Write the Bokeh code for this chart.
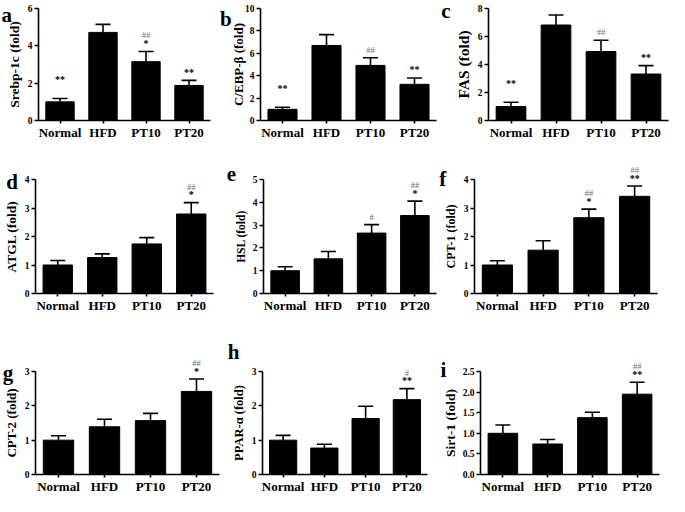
from bokeh.plotting import figure
from bokeh.layouts import column, row
from bokeh.models import (Range1d, FixedTicker, Whisker, TeeHead,
                          ColumnDataSource, FactorRange, PrintfTickFormatter)
from bokeh.core.properties import value
from bokeh.embed import file_html
from bokeh.resources import INLINE

# ---------------- data ----------------
groups = ["Normal", "HFD", "PT10", "PT20"]

srebp_mean = [1.0, 4.72, 3.15, 1.88]
srebp_err = [0.18, 0.43, 0.55, 0.27]
cebp_mean = [1.0, 6.70, 4.92, 3.23]
cebp_err = [0.18, 0.97, 0.68, 0.57]
fas_mean = [1.0, 6.82, 4.93, 3.32]
fas_err = [0.30, 0.72, 0.80, 0.60]
atgl_mean = [1.0, 1.26, 1.74, 2.79]
atgl_err = [0.16, 0.13, 0.22, 0.40]
hsl_mean = [1.0, 1.52, 2.65, 3.42]
hsl_err = [0.17, 0.32, 0.37, 0.63]
cpt1_mean = [1.0, 1.52, 2.66, 3.41]
cpt1_err = [0.15, 0.33, 0.30, 0.36]
cpt2_mean = [1.0, 1.39, 1.57, 2.42]
cpt2_err = [0.13, 0.22, 0.21, 0.36]
ppara_mean = [1.0, 0.77, 1.63, 2.18]
ppara_err = [0.14, 0.11, 0.36, 0.32]
sirt1_mean = [1.0, 0.74, 1.38, 1.95]
sirt1_err = [0.20, 0.11, 0.13, 0.29]

# significance marks: (group, text, line)
srebp_marks = [("Normal", "**", 2), ("PT10", "*", 0), ("PT10", "##", 1), ("PT20", "**", 0)]
cebp_marks = [("Normal", "**", 2), ("PT10", "##", 0), ("PT20", "**", 0)]
fas_marks = [("Normal", "**", 2), ("PT10", "##", 0), ("PT20", "**", 0)]
atgl_marks = [("PT20", "*", 0), ("PT20", "##", 1)]
hsl_marks = [("PT10", "#", 0), ("PT20", "*", 0), ("PT20", "##", 1)]
cpt1_marks = [("PT10", "*", 0), ("PT10", "##", 1), ("PT20", "**", 0), ("PT20", "##", 1)]
cpt2_marks = [("PT20", "*", 0), ("PT20", "##", 1)]
ppara_marks = [("PT20", "**", 0), ("PT20", "#", 1)]
sirt1_marks = [("PT20", "**", 0), ("PT20", "##", 1)]

# ---------------- layout helpers (reference pixel geometry -> page) ----------------
W_AVAIL, H_AVAIL = 669, 496


def X(x):
    return (x - 8) * W_AVAIL / 677.0


def Y(y):
    return (y - 8) * H_AVAIL / 502.0


ROWS = [(8, 168), (168, 340), (340, 510)]
FONT = "Liberation Serif"
LINE_OFF = {0: 8, 1: 16, 2: 19}
ASCENDER = set("bdfhk")

panels = [
    # letter, row, fig x0,x1, frame L,R,T,B, letter x, baseline y, ymax, ticks, label, label size, label standoff, mean, err, marks, fmt
    ("a", 0, 8, 228, 46, 221, 12, 129, 3, 18, 6, [0, 2, 4, 6], "Srebp-1c (fold)", 13.5, 3, srebp_mean, srebp_err, srebp_marks, None),
    ("b", 0, 228, 452, 271, 449, 12, 131, 230, 18, 10, [0, 2, 4, 6, 8, 10], "C/EBP-\u03b2 (fold)", 13, -4, cebp_mean, cebp_err, cebp_marks, None),
    ("c", 0, 452, 685, 502, 684, 16, 142, 454, 18, 8, [0, 2, 4, 6, 8], "FAS (fold)", 15.5, 3, fas_mean, fas_err, fas_marks, None),
    ("d", 1, 8, 234, 39, 224, 180, 305, 3, 183, 4, [0, 1, 2, 3, 4], "ATGL (fold)", 13.5, 3, atgl_mean, atgl_err, atgl_marks, None),
    ("e", 1, 234, 450, 274, 449, 189, 307, 237, 183, 5, [0, 1, 2, 3, 4, 5], "HSL (fold)", 11.5, 3, hsl_mean, hsl_err, hsl_marks, None),
    ("f", 1, 450, 685, 488, 673, 184, 307, 452, 183, 4, [0, 1, 2, 3, 4], "CPT-1 (fold)", 12, 3, cpt1_mean, cpt1_err, cpt1_marks, None),
    ("g", 2, 8, 234, 42, 230, 370, 491, 3, 372, 3, [0, 1, 2, 3], "CPT-2 (fold)", 13, 3, cpt2_mean, cpt2_err, cpt2_marks, None),
    ("h", 2, 234, 452, 273, 440, 383, 492, 238, 363, 3, [0, 1, 2, 3], "PPAR-\u03b1 (fold)", 12.5, 3, ppara_mean, ppara_err, ppara_marks, None),
    ("i", 2, 452, 685, 494, 675, 374, 491, 453, 373, 2.5, [0, 0.5, 1.0, 1.5, 2.0, 2.5], "Sirt-1 (fold)", 13.5, 2, sirt1_mean, sirt1_err, sirt1_marks, "%.1f"),
]


def make_panel(spec):
    (letter, r, fx0, fx1, L, R, T, B, lx_ref, ly_ref, ymax, ticks, ylabel, lsize, lstand,
     mean, err, marks, fmt) = spec
    r0, r1 = ROWS[r]
    rx0 = round(X(fx0)) if fx0 > 8 else 0
    rx1 = round(X(fx1)) if fx1 < 685 else W_AVAIL
    rt = round(Y(r0))
    rb = round(Y(r1)) if r1 < 510 else H_AVAIL
    width = rx1 - rx0
    height = rb - rt
    bl = round(X(L)) - rx0
    br = rx1 - round(X(R))
    bt = round(Y(T)) - rt
    bb = rb - round(Y(B))
    fw = width - bl - br
    fh = height - bt - bb

    p = figure(width=width, height=height,
               x_range=FactorRange(factors=groups, range_padding=0),
               y_range=Range1d(0, ymax),
               min_border_left=bl, min_border_right=br,
               min_border_top=bt, min_border_bottom=bb,
               output_backend="svg", toolbar_location=None)
    p.outline_line_color = None
    p.xgrid.grid_line_color = None
    p.ygrid.grid_line_color = None
    p.background_fill_color = "white"
    p.border_fill_color = "white"

    upper = [m + e for m, e in zip(mean, err)]
    src = ColumnDataSource(dict(group=groups, mean=mean, upper=upper))
    p.vbar(x="group", top="mean", width=0.66, source=src,
           fill_color="black", line_color="black", line_width=1)
    p.add_layout(Whisker(base="group", upper="upper", lower="mean", source=src,
                         dimension="height", line_color="black", line_width=1.6,
                         upper_head=TeeHead(size=15, line_color="black", line_width=1.6),
                         lower_head=None))

    # significance marks (overlay level so they are not clipped at the frame top)
    upper_of = dict(zip(groups, upper))
    stars = dict(x=[], y=[], text=[], off=[])
    hashes = dict(x=[], y=[], text=[], off=[])
    for g, t, ln in marks:
        d = hashes if t.startswith("#") else stars
        d["x"].append(g)
        d["y"].append(upper_of[g])
        d["text"].append(t)
        d["off"].append(-LINE_OFF[ln])
    if stars["x"]:
        p.text(x="x", y="y", text="text", y_offset="off", source=ColumnDataSource(stars),
               level="overlay", text_align="center", text_baseline="middle",
               text_color="black", text_font=value(FONT), text_font_size="10px",
               text_font_style="bold")
    if hashes["x"]:
        p.text(x="x", y="y", text="text", y_offset="off", source=ColumnDataSource(hashes),
               level="overlay", text_align="center", text_baseline="middle",
               text_color="#707070", text_font=value(FONT), text_font_size="8.5px")

    # axes
    for ax in (p.xaxis[0], p.yaxis[0]):
        ax.axis_line_width = 1.6
        ax.axis_line_color = "black"
        ax.major_tick_line_width = 1.6
        ax.major_tick_line_color = "black"
        ax.major_tick_in = 0
        ax.minor_tick_line_color = None
        ax.major_label_text_font = FONT
        ax.major_label_text_font_style = "bold"
        ax.major_label_text_color = "black"
    p.xaxis.major_tick_out = 3
    p.xaxis.major_label_standoff = 1
    p.xaxis.major_label_text_font_size = "13px"
    p.xaxis.major_label_orientation = "horizontal"
    p.yaxis.major_tick_out = 4
    p.yaxis.major_label_standoff = 2
    p.yaxis.major_label_text_font_size = "9.5px"
    p.yaxis.ticker = FixedTicker(ticks=ticks)
    if fmt:
        p.yaxis.formatter = PrintfTickFormatter(format=fmt)
    p.yaxis.axis_label = ylabel
    p.yaxis.axis_label_text_font = FONT
    p.yaxis.axis_label_text_font_style = "bold"
    p.yaxis.axis_label_text_font_size = f"{lsize}px"
    p.yaxis.axis_label_text_color = "black"
    p.yaxis.axis_label_standoff = lstand

    # panel letter (overlay level, in the margin left of the axis)
    lx = max(X(lx_ref) - rx0, 1)
    ly = max(Y(ly_ref) - rt, 15 if letter in ASCENDER else 11)
    xd = (lx - bl) / fw * len(groups)
    yd = ymax * (1 - (ly - bt) / fh)
    p.text(x=[xd], y=[yd], text=[letter], level="overlay",
           text_font=value(FONT), text_font_style="bold", text_font_size="21px",
           text_color="black", text_align="left", text_baseline="alphabetic")
    return p


figs = [make_panel(s) for s in panels]
layout = column(row(*figs[0:3]), row(*figs[3:6]), row(*figs[6:9]))

open("out.html", "w").write(file_html(layout, INLINE))
